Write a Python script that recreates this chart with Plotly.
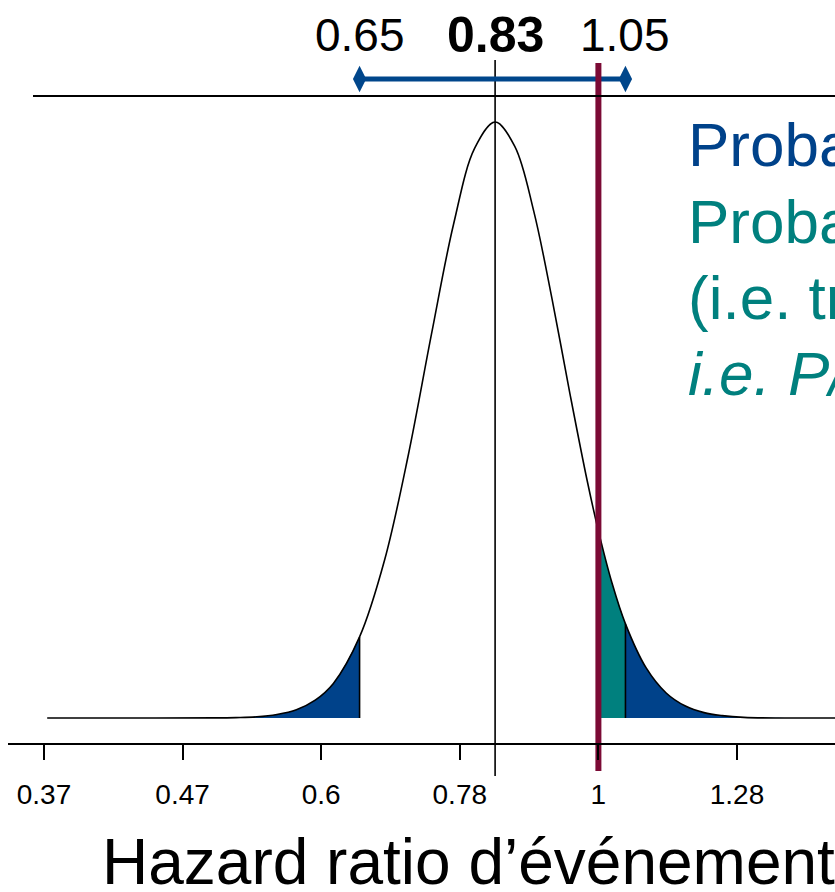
import numpy as np
import plotly.graph_objects as go

# ---------------- data ----------------
estimate = 0.83
ci_low = 0.65
ci_high = 1.05
null_hr = 1.0

curve_hr = [0.37, 0.45, 0.50, 0.52, 0.54, 0.56, 0.58, 0.60, 0.62, 0.65, 0.68, 0.71,
            0.74, 0.77, 0.80, 0.83, 0.86, 0.89, 0.92, 0.95, 0.98, 1.00, 1.025, 1.05,
            1.09, 1.13, 1.17, 1.21, 1.25, 1.30, 1.40, 1.60]
curve_density = [0, 0, 0.0002, 0.0007, 0.002, 0.006, 0.014, 0.030, 0.058, 0.136, 0.265, 0.443,
                 0.644, 0.828, 0.956, 1.0, 0.959, 0.850, 0.702, 0.544, 0.398, 0.314, 0.226, 0.158,
                 0.084, 0.042, 0.020, 0.009, 0.004, 0.001, 0, 0]

tick_log = [-1.0, -0.75, -0.5, -0.25, 0.0, 0.25]
tick_labels = ["0.37", "0.47", "0.6", "0.78", "1", "1.28"]

text_lines = ["Probabilité HR < 1 = 94 %",
              "Probabilité HR > 1 = 6 %",
              "(i.e. traitement délétère)",
              "<i>i.e. P/2</i>"]
axis_title = "Hazard ratio d’événement"

# ---------------- styling / layout helpers ----------------
W, H = 835, 892
ML = 8
PX_PER_LN = 554.4
X0_PX = 598.4          # pixel of ln(HR)=0
Y0_PX, PEAK_PX = 718, 122
UNIT = Y0_PX - PEAK_PX

def py(p):  # pixel row -> y data
    return (Y0_PX - p) / UNIT

def pxp(p):  # pixel column -> paper x
    return (p - ML) / (W - ML)

def pyp(p):  # pixel row -> paper y
    return (H - p) / H

FONT = "Liberation Sans, Arial, sans-serif"
DBLUE = "#00428a"
TEAL = "#00807e"
RED = "#7b0a35"

hr = np.array(curve_hr)
dens = np.array(curve_density)
lx = np.log(hr)

fig = go.Figure()

def fill_trace(mask, color):
    fig.add_trace(go.Scatter(x=lx[mask], y=dens[mask], mode="lines",
                             line=dict(width=0, shape="spline", color=color),
                             fill="tozeroy", fillcolor=color, hoverinfo="skip",
                             showlegend=False))

fill_trace(hr <= ci_low, DBLUE)
fill_trace((hr >= null_hr) & (hr <= ci_high), TEAL)
fill_trace(hr >= ci_high, DBLUE)

# density curve
fig.add_trace(go.Scatter(x=lx, y=dens, mode="lines",
                         line=dict(color="black", width=1.6, shape="spline"),
                         showlegend=False, hoverinfo="skip"))

# vertical borders of shaded regions
for v in (ci_low, ci_high):
    i = curve_hr.index(v)
    fig.add_trace(go.Scatter(x=[np.log(v)] * 2, y=[0, curve_density[i]], mode="lines",
                             line=dict(color="black", width=1.6),
                             showlegend=False, hoverinfo="skip"))

# line at point estimate
fig.add_trace(go.Scatter(x=[np.log(estimate)] * 2, y=[py(60), py(776)], mode="lines",
                         line=dict(color="black", width=1.6),
                         showlegend=False, hoverinfo="skip"))

# confidence interval bar
fig.add_trace(go.Scatter(x=[np.log(ci_low), np.log(ci_high)], y=[py(79)] * 2,
                         mode="lines+markers",
                         line=dict(color="#00468b", width=5),
                         marker=dict(symbol="diamond-tall", size=19, color="#00468b"),
                         showlegend=False, hoverinfo="skip"))

# null line
fig.add_trace(go.Scatter(x=[np.log(null_hr)] * 2, y=[py(63), py(771)], mode="lines",
                         line=dict(color=RED, width=6),
                         showlegend=False, hoverinfo="skip"))

fig.add_shape(type="line", xref="paper", yref="y", x0=pxp(33), x1=1,
              y0=py(96), y1=py(96), line=dict(color="black", width=2))

annotations = []
for val, txt, bold in ((ci_low, f"{ci_low:.2f}", False),
                       (estimate, f"{estimate:.2f}", True),
                       (ci_high, f"{ci_high:.2f}", False)):
    annotations.append(dict(x=np.log(val), xref="x", y=pyp(35), yref="paper",
                            text=f"<b>{txt}</b>" if bold else txt, showarrow=False,
                            xanchor="center", yanchor="middle",
                            font=dict(family=FONT, size=50 if bold else 46, color="black")))

centers = [144, 221, 298, 373]
colors = [DBLUE, TEAL, TEAL, TEAL]
for t, c, col in zip(text_lines, centers, colors):
    annotations.append(dict(x=pxp(686), xref="paper", y=pyp(c), yref="paper",
                            text=t, showarrow=False, xanchor="left", yanchor="middle",
                            font=dict(family=FONT, size=62, color=col)))

annotations.append(dict(x=pxp(100), xref="paper", y=pyp(862), yref="paper",
                        text=axis_title, showarrow=False, xanchor="left", yanchor="middle",
                        font=dict(family=FONT, size=64, color="black")))

fig.update_layout(
    width=W, height=H,
    margin=dict(l=ML, r=0, t=0, b=0),
    paper_bgcolor="white", plot_bgcolor="white",
    showlegend=False,
    hovermode=False,
    annotations=annotations,
    xaxis=dict(range=[(ML - X0_PX) / PX_PER_LN, (W - X0_PX) / PX_PER_LN],
               anchor="free", position=(H - 744) / H,
               showline=True, linecolor="black", linewidth=2,
               showgrid=False, zeroline=False, fixedrange=True,
               tickmode="array", tickvals=tick_log, ticktext=tick_labels,
               ticks="outside", ticklen=15, tickwidth=1.6, tickcolor="black",
               ticklabelstandoff=10,
               tickfont=dict(family=FONT, size=28, color="black")),
    yaxis=dict(range=[-(H - Y0_PX) / UNIT, Y0_PX / UNIT], domain=[0, 1],
               visible=False, fixedrange=True),
)

fig.write_html("out.html",
               config={"displayModeBar": False},
               post_script="document.body.style.margin='0';document.body.style.overflow='hidden';")
